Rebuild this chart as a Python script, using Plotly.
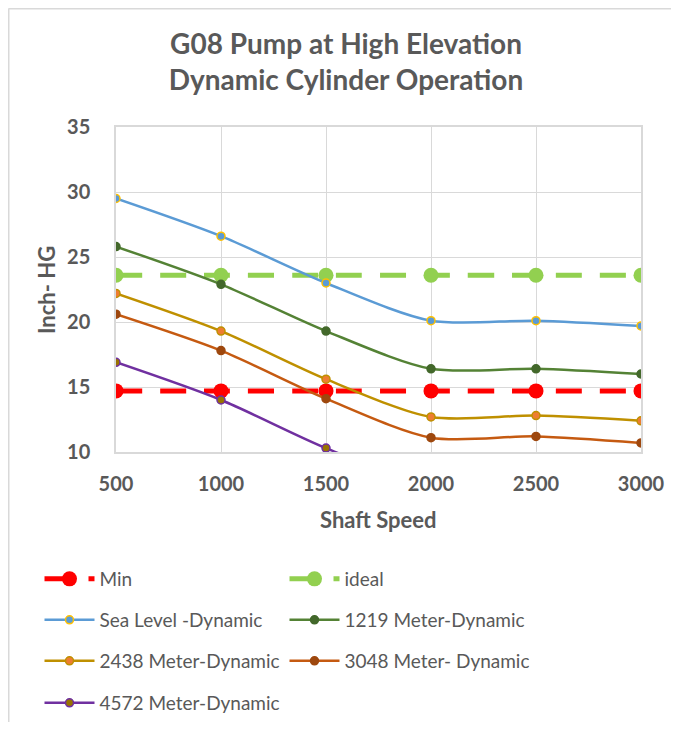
import plotly.graph_objects as go

speed = [500, 1000, 1500, 2000, 2500, 3000]
min_line = [14.7, 14.7, 14.7, 14.7, 14.7, 14.7]
ideal_line = [23.6, 23.6, 23.6, 23.6, 23.6, 23.6]
sea_level = [29.5, 26.6, 23.0, 20.1, 20.1, 19.7]
m1219 = [25.8, 22.9, 19.3, 16.4, 16.4, 16.0]
m2438 = [22.2, 19.3, 15.6, 12.7, 12.8, 12.4]
m3048 = [20.6, 17.8, 14.1, 11.1, 11.2, 10.7]
m4572 = [16.9, 14.0, 10.3, 7.4, 7.5, 7.1]

FONT = "Lato"
GRAY = "#595959"
GRID = "#D9D9D9"

fig = go.Figure()

def add(name, y, line_color, mfill, mline, legend, width=2.5, msize=8, dash=None, mlw=1.5):
    fig.add_trace(go.Scatter(
        x=speed, y=y, name=name, mode="lines+markers",
        line=dict(color=line_color, width=width, shape="spline", smoothing=0.8,
                  dash=dash if dash else "solid"),
        marker=dict(size=msize, color=mfill, line=dict(color=mline, width=mlw)),
        legend=legend,
    ))

add("Min", min_line, "#FF0000", "#FF0000", "#FF0000", "legend", width=5, msize=15, dash="26px,18px", mlw=0)
add("ideal", ideal_line, "#92D050", "#92D050", "#92D050", "legend", width=5, msize=15, dash="26px,18px", mlw=0)
add("Sea Level -Dynamic", sea_level, "#5B9BD5", "#5B9BD5", "#FFC000", "legend2")
add("1219 Meter-Dynamic", m1219, "#548235", "#43682B", "#43682B", "legend2")
add("2438 Meter-Dynamic", m2438, "#BF9000", "#ED7D31", "#BF9000", "legend3")
add("3048 Meter- Dynamic", m3048, "#C55A11", "#9E480E", "#9E480E", "legend3")
add("4572 Meter-Dynamic", m4572, "#7030A0", "#997300", "#7030A0", "legend4")

OFF = 8  # page body margin
FW, FH = 679 - 2 * OFF, 730 - 2 * OFF
SL, ST, W, H = 116, 127, 525, 325  # plot area in screenshot coords
L, T = SL - OFF, ST - OFF

def py(sy):
    return (ST + H - sy) / H

def px(sx):
    return (sx - SL) / W

leg_common = dict(orientation="h", xanchor="left", yanchor="middle",
                  font=dict(family=FONT, size=19, color=GRAY),
                  entrywidth=180, entrywidthmode="pixels",
                  bgcolor="rgba(0,0,0,0)", itemwidth=50)
legs = {}
for key, sy in [("legend", 579), ("legend2", 620), ("legend3", 661), ("legend4", 703)]:
    legs[key] = dict(leg_common, x=px(39.5), y=py(sy))

fig.update_layout(
    width=FW, height=FH,
    margin=dict(l=L, r=FW - L - W, t=T, b=FH - T - H, autoexpand=False),
    paper_bgcolor="white", plot_bgcolor="white",
    font=dict(family=FONT, color=GRAY),
    title=dict(text="<b>G08 Pump at High Elevation<br>Dynamic Cylinder Operation</b>",
               x=(346 - OFF) / FW, xanchor="center", xref="container",
               y=1 - 45.7 / FH, yanchor="middle", yref="container",
               font=dict(family=FONT, size=28, color=GRAY)),
    xaxis=dict(range=[500, 3000], tickvals=speed, showgrid=True, gridcolor=GRID,
               showline=True, linecolor=GRID, linewidth=1.5, mirror=True,
               zeroline=False, ticks="", ticklabelstandoff=13,
               tickfont=dict(family=FONT, size=20, color=GRAY, weight="bold")),
    yaxis=dict(range=[10, 35], dtick=5, showgrid=True, gridcolor=GRID,
               showline=True, linecolor=GRID, linewidth=1.5, mirror=True,
               zeroline=False, ticks="", ticklabelstandoff=20,
               tickfont=dict(family=FONT, size=20, color=GRAY, weight="bold")),
    annotations=[
        dict(text="<b>Shaft Speed</b>", x=0.5, y=py(519), xref="paper", yref="paper",
             showarrow=False, xanchor="center", yanchor="middle",
             font=dict(family=FONT, size=22, color=GRAY)),
        dict(text="<b>Inch- HG</b>", x=px(46), y=py(290), xref="paper", yref="paper",
             showarrow=False, xanchor="center", yanchor="middle", textangle=-90,
             font=dict(family=FONT, size=22, color=GRAY)),
    ],
    shapes=[
        dict(type="line", xref="paper", yref="paper", x0=px(8.5), x1=px(700),
             y0=py(8.5), y1=py(8.5), line=dict(color=GRID, width=2)),
        dict(type="line", xref="paper", yref="paper", x0=px(8.5), x1=px(8.5),
             y0=py(8.5), y1=py(760), line=dict(color=GRID, width=2)),
    ],
    **legs,
)

fig.write_html("out.html")
